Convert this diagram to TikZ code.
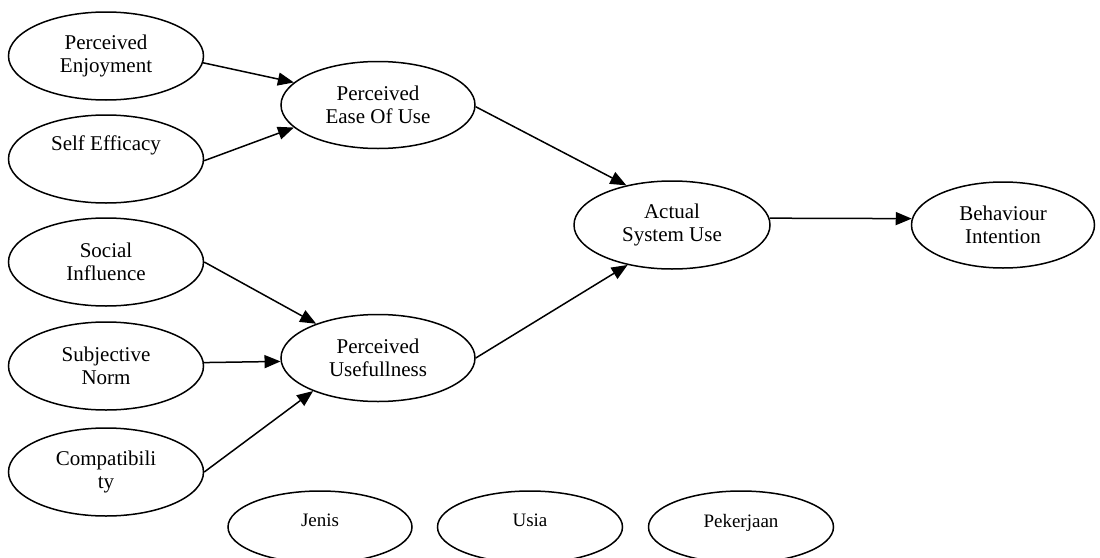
\documentclass[tikz,border=0pt]{standalone}
\usepackage{fontspec}
\setmainfont{Liberation Serif}
\usetikzlibrary{shapes.geometric,arrows.meta}
\tikzset{
  ell/.style={draw, ellipse, line width=1.5pt, inner sep=0pt, align=center,
    minimum width=195pt, minimum height=88pt, font=\fontsize{21}{22.5}\selectfont},
  small/.style={ell, minimum width=185pt, minimum height=72pt, font=\fontsize{19}{21}\selectfont},
  arr/.style={line width=1.5pt, -{Triangle[length=16pt,width=13pt]}}
}
\begin{document}
\begin{tikzpicture}[x=1pt,y=-1pt]
\useasboundingbox (0,0) rectangle (1100,557);
\clip (0,0) rectangle (1100,557);
\fill[white] (0,0) rectangle (1100,557);
\node[ell] (pe) at (106,56) {Perceived\\Enjoyment};
\node[ell] (se) at (106,159) {Self Efficacy\\[10pt]};
\node[ell] (si) at (106,262) {Social\\Influence};
\node[ell] (sn) at (106,366) {Subjective\\Norm};
\node[ell] (co) at (106,472) {Compatibili\\ty};
\node[ell, minimum width=194pt, minimum height=87pt] (peou) at (378,105) {Perceived\\Ease Of Use};
\node[ell, minimum width=194pt, minimum height=87pt] (pu) at (378,358) {Perceived\\Usefullness};
\node[ell, minimum width=196pt] (asu) at (672,225) {Actual\\System Use};
\node[ell, minimum width=183pt, minimum height=86pt] (bi) at (1003,225) {Behaviour\\Intention};
\node[small, minimum width=184pt] (jenis) at (320,527) {\raisebox{7pt}[\height][\depth]{Jenis}};
\node[small] (usia) at (530,527) {\raisebox{7pt}[\height][\depth]{Usia}};
\node[small] (pek) at (741,527) {\raisebox{4pt}[\height][\depth]{Pekerjaan}};
\draw[arr] (pe.-4) -- (peou.165);
\draw[arr] (se.-1) -- (peou.195);
\draw[arr] (peou.-1) -- (asu.139);
\draw[arr] (pu.east) -- (asu.222);
\draw[arr] (si.east) -- (pu.151);
\draw[arr] (sn.2) -- (pu.182);
\draw[arr] (co.east) -- (pu.207);
\draw[arr] (asu.4) -- (bi.176);
\end{tikzpicture}
\end{document}
